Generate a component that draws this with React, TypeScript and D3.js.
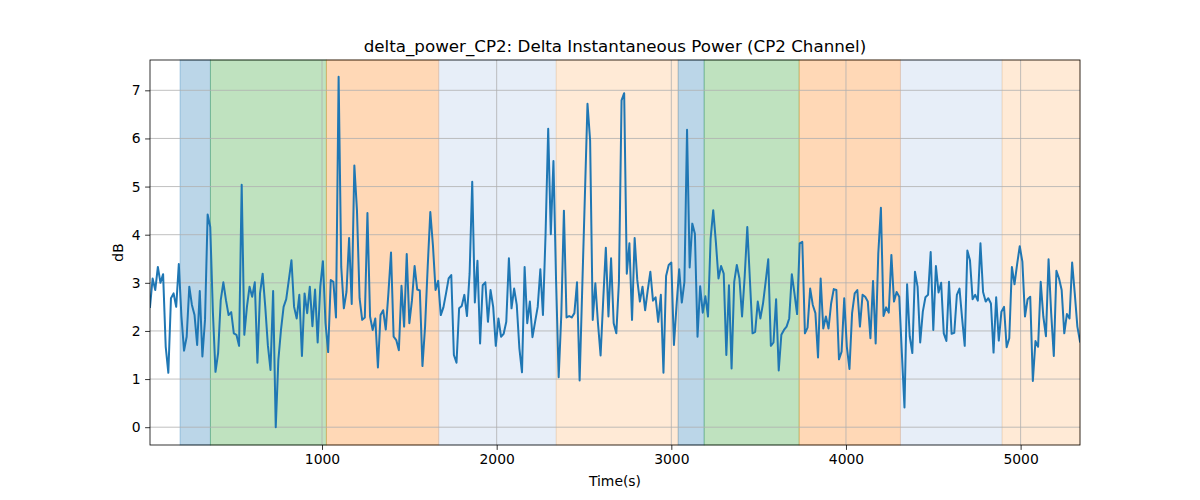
import React, { useRef, useEffect } from "react";
import * as d3 from "d3";

const TITLE = "delta_power_CP2: Delta Instantaneous Power (CP2 Channel)";
const X_LABEL = "Time(s)";
const Y_LABEL = "dB";

const T_START = 15;
const T_END = 5340;

// delta power in dB, sampled at regular time steps
const deltaPower: number[] = [
  2.5, 3.09, 2.85, 3.33, 3.0, 3.18, 1.67, 1.13, 2.68, 2.78,
  2.5, 3.39, 2.3, 1.59, 1.88, 2.92, 2.54, 2.33, 1.71, 2.83,
  1.47, 2.23, 4.42, 4.16, 2.4, 1.15, 1.54, 2.64, 3.01, 2.64,
  2.33, 2.39, 1.95, 1.92, 1.69, 5.04, 1.92, 2.5, 2.92, 2.71,
  3.01, 1.34, 2.78, 3.19, 2.5, 1.7,
  1.19, 2.83, 0.0, 1.4, 2.02, 2.5, 2.66, 3.06, 3.47, 2.5,
  2.26, 2.75, 1.48, 2.78, 2.37, 2.92, 2.1, 2.86, 1.76, 2.92,
  3.45, 2.16, 1.56, 3.06, 3.02, 2.28, 7.28, 3.33, 2.47, 2.81,
  3.93, 2.56, 5.44, 4.51, 2.68, 2.23, 2.28, 4.45, 2.3, 2.02,
  2.26, 1.24, 2.33,
  2.43, 2.03, 2.78, 3.63, 1.88, 1.81, 1.6, 2.94, 2.09, 3.6,
  2.16, 2.64, 3.35, 2.86, 2.84, 1.27, 2.09, 3.33, 4.47, 3.78,
  2.85, 3.04, 2.33, 2.49, 2.78, 3.09, 3.16, 1.5, 1.34, 2.47,
  2.52, 2.75, 2.31, 3.19, 5.1, 2.59, 3.46, 1.74, 2.95, 3.01,
  2.19, 2.85, 2.5, 1.69, 2.26,
  1.88, 1.94, 2.19, 3.51, 2.47, 2.88, 2.54, 1.64, 1.14, 3.33,
  2.16, 2.61, 1.87, 2.19, 2.5, 3.28, 2.33, 4.02, 6.2, 4.01,
  5.53, 3.06, 1.04, 2.33, 4.5, 2.28, 2.31, 2.28, 2.37, 3.01,
  0.97, 2.9, 4.8, 6.72, 5.96, 2.23, 2.99, 2.16, 1.49, 2.64,
  3.73, 2.3, 3.51, 2.16,
  1.95, 3.02, 6.79, 6.94, 3.19, 3.82, 2.23, 3.93, 3.06, 2.61,
  2.92, 2.43, 2.85, 3.23, 2.63, 2.7, 2.19, 2.75, 1.13, 3.14,
  3.37, 3.42, 1.71, 2.54, 3.28, 2.59, 3.02, 6.18, 3.32, 4.23,
  4.02, 1.88, 2.93, 2.38, 2.72, 2.3, 3.92, 4.51, 3.85, 3.09,
  3.35, 3.19, 1.5, 2.95,
  1.22, 3.02, 3.37, 3.09, 2.3, 3.13, 4.16, 3.06, 1.95, 1.98,
  2.61, 2.26, 2.57, 3.02, 3.49, 1.69, 1.76, 2.66, 1.18, 1.92,
  2.02, 2.09, 2.26, 3.18, 2.78, 2.35, 3.82, 3.85, 1.95, 2.07,
  2.88, 2.54, 2.37, 1.45, 3.09, 2.05, 2.3, 2.05, 2.57, 2.87,
  2.85, 1.41, 1.57, 2.68,
  1.67, 1.21, 2.37, 2.78, 2.85, 2.09, 2.75, 2.71, 2.61, 1.85,
  3.04, 1.74, 3.61, 4.56, 2.31, 2.49, 2.38, 3.58, 2.61, 2.81,
  2.71, 1.54, 0.41, 2.97, 1.89, 1.54, 3.23, 2.92, 1.76, 2.4,
  2.7, 2.75, 3.64, 2.02, 3.35, 2.8, 3.0, 1.95, 1.79, 3.02,
  1.94, 1.96, 2.75, 2.88, 2.26,
  1.69, 3.67, 3.47, 2.66, 2.75, 2.63, 3.82, 2.81, 2.61, 2.68,
  2.57, 1.55, 2.7, 1.8, 2.4, 2.5, 1.66, 1.85, 3.33, 2.97,
  3.39, 3.76, 3.44, 2.3, 2.66, 2.71, 0.96, 1.79, 1.67, 3.02,
  2.3, 1.89, 3.49, 2.37, 1.48, 3.25, 3.09, 2.85, 1.95, 2.35,
  2.26, 3.42, 2.78, 2.09, 1.78,
];

// shaded phases: start, end (s) and colour
const phaseStarts = [187, 361, 1025, 1668, 2341, 3039, 3188, 3732, 4312, 4894];
const phaseEnds = [361, 1025, 1668, 2341, 3039, 3188, 3732, 4312, 4894, 5340];
const phaseColors = [
  "#1f77b4", "#2ca02c", "#ff7f0e", "#aec7e8", "#ffbb78",
  "#1f77b4", "#2ca02c", "#ff7f0e", "#aec7e8", "#ffbb78",
];

const xTicks = [1000, 2000, 3000, 4000, 5000];
const yTicks = [0, 1, 2, 3, 4, 5, 6, 7];

const WIDTH = 1200;
const HEIGHT = 500;
const FONT = "'DejaVu Sans', sans-serif";

function drawChart(svgEl: SVGSVGElement) {
  const margin = { top: 60, right: 120, bottom: 55, left: 150 };
  const innerW = WIDTH - margin.left - margin.right;
  const innerH = HEIGHT - margin.top - margin.bottom;

  const svg = d3.select(svgEl);
  svg.selectAll("*").remove();

  const step = (T_END - T_START) / (deltaPower.length - 1);
  const series: [number, number][] = deltaPower.map((v, i) => [T_START + i * step, v]);

  const x = d3.scaleLinear().domain([T_START, T_END]).range([0, innerW]);
  const y = d3.scaleLinear().domain([-0.37, 7.63]).range([innerH, 0]);

  const g = svg.append("g").attr("transform", `translate(${margin.left},${margin.top})`);

  g.append("defs")
    .append("clipPath")
    .attr("id", "plot-clip")
    .append("rect")
    .attr("width", innerW)
    .attr("height", innerH);

  // phase spans
  g.append("g")
    .selectAll("rect")
    .data(phaseStarts)
    .enter()
    .append("rect")
    .attr("x", (d) => x(d))
    .attr("y", 0)
    .attr("width", (d, i) => x(phaseEnds[i]) - x(d))
    .attr("height", innerH)
    .attr("fill", (d, i) => phaseColors[i])
    .attr("fill-opacity", 0.3)
    .attr("stroke", (d, i) => phaseColors[i])
    .attr("stroke-opacity", 0.3)
    .attr("stroke-width", 1);

  // grid
  g.append("g")
    .selectAll("line")
    .data(xTicks)
    .enter()
    .append("line")
    .attr("x1", (d) => x(d))
    .attr("x2", (d) => x(d))
    .attr("y1", 0)
    .attr("y2", innerH)
    .attr("stroke", "#b0b0b0")
    .attr("stroke-width", 0.8);
  g.append("g")
    .selectAll("line")
    .data(yTicks)
    .enter()
    .append("line")
    .attr("x1", 0)
    .attr("x2", innerW)
    .attr("y1", (d) => y(d))
    .attr("y2", (d) => y(d))
    .attr("stroke", "#b0b0b0")
    .attr("stroke-width", 0.8);

  // data line
  const line = d3
    .line<[number, number]>()
    .x((d) => x(d[0]))
    .y((d) => y(d[1]));
  g.append("path")
    .datum(series)
    .attr("clip-path", "url(#plot-clip)")
    .attr("d", line)
    .attr("fill", "none")
    .attr("stroke", "#1f77b4")
    .attr("stroke-width", 2)
    .attr("stroke-linejoin", "round")
    .attr("stroke-linecap", "square");

  // axes
  const xAxis = g
    .append("g")
    .attr("transform", `translate(0,${innerH})`)
    .call(d3.axisBottom(x).tickValues(xTicks).tickFormat(d3.format("d")).tickSize(4.9).tickPadding(4.5));
  const yAxis = g
    .append("g")
    .call(d3.axisLeft(y).tickValues(yTicks).tickFormat(d3.format("d")).tickSize(4.9).tickPadding(4.5));
  for (const ax of [xAxis, yAxis]) {
    ax.select(".domain").remove();
    ax.selectAll("line").attr("stroke", "#000").attr("stroke-width", 0.8);
    ax.selectAll("text").attr("font-family", FONT).attr("font-size", 13.9).attr("fill", "#000");
  }

  // frame
  g.append("rect")
    .attr("width", innerW)
    .attr("height", innerH)
    .attr("fill", "none")
    .attr("stroke", "#000")
    .attr("stroke-width", 0.8);

  svg.append("text")
    .attr("x", margin.left + innerW / 2)
    .attr("y", margin.top - 8)
    .attr("text-anchor", "middle")
    .attr("font-family", FONT)
    .attr("font-size", 16.7)
    .text(TITLE);

  svg.append("text")
    .attr("x", margin.left + innerW / 2)
    .attr("y", HEIGHT - 14)
    .attr("text-anchor", "middle")
    .attr("font-family", FONT)
    .attr("font-size", 13.9)
    .text(X_LABEL);

  svg.append("text")
    .attr("transform", `translate(123,${margin.top + innerH / 2}) rotate(-90)`)
    .attr("text-anchor", "middle")
    .attr("font-family", FONT)
    .attr("font-size", 13.9)
    .text(Y_LABEL);
}

const App: React.FunctionComponent = function () {
  const svgRef = useRef<SVGSVGElement>(null);

  useEffect(() => {
    if (svgRef.current == null) {
      return;
    }
    drawChart(svgRef.current);
  }, []);

  return (
    <svg
      ref={svgRef}
      width={WIDTH}
      height={HEIGHT}
      style={{ position: "absolute", left: 0, top: 0, background: "#fff" }}
    />
  );
};

export default App;
